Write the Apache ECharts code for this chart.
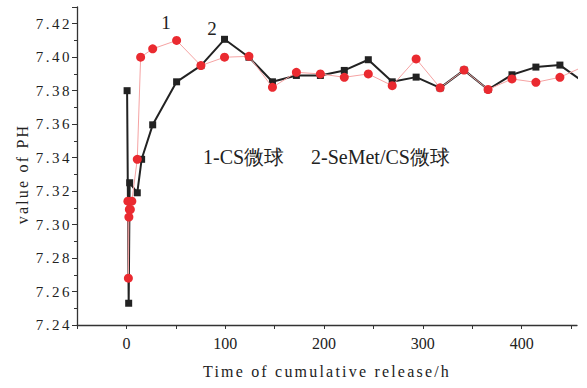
<!DOCTYPE html>
<html>
<head>
<meta charset="utf-8">
<script src="https://cdn.jsdelivr.net/npm/echarts@6/dist/echarts.min.js"></script>
<style>
html,body{margin:0;padding:0;background:#fff;}
#chart{width:587px;height:388px;}
</style>
</head>
<body>
<div id="chart"></div>
<script>
// Series 1: CS microspheres (red circles)
const timeRed = [1.5, 2, 2.5, 3, 4, 5.5, 11, 14.4, 26.6, 50.8, 75.4, 99.3, 124, 147.8, 172, 196.3, 220.5, 244.8, 269, 293.2, 317.5, 341.7, 366, 390.2, 414.4, 438.7, 463];
const phRed   = [7.314, 7.268, 7.3045, 7.309, 7.309, 7.314, 7.339, 7.400, 7.405, 7.410, 7.395, 7.400, 7.4005, 7.382, 7.391, 7.390, 7.388, 7.390, 7.383, 7.399, 7.3817, 7.3923, 7.3807, 7.387, 7.385, 7.388, 7.3945];
// Series 2: SeMet/CS microspheres (black squares)
const timeBlack = [0.7, 2.3, 3.3, 11, 15.4, 26.6, 50.8, 75.4, 99.3, 124, 147.8, 172, 196.3, 220.5, 244.8, 269, 293.2, 317.5, 341.7, 366, 390.2, 414.4, 438.7, 463];
const phBlack   = [7.380, 7.253, 7.325, 7.319, 7.339, 7.3596, 7.3853, 7.395, 7.4107, 7.400, 7.3853, 7.3891, 7.3891, 7.3921, 7.3985, 7.3853, 7.3881, 7.3817, 7.3923, 7.3807, 7.3895, 7.3941, 7.3953, 7.385];
const xTickLabels = [0, 100, 200, 300, 400];
const yTickLabels = [7.24, 7.26, 7.28, 7.30, 7.32, 7.34, 7.36, 7.38, 7.40, 7.42];
const legendText1 = '1-CS微球';
const legendText2 = '2-SeMet/CS微球';
const curveLabel1 = '1';
const curveLabel2 = '2';
const xName = 'Time of cumulative release/h';
const yName = 'value of PH';

const zip = (xs, ys) => xs.map((x, i) => [x, ys[i]]);
const serif = 'Liberation Serif';
const textColor = '#222';

const chart = echarts.init(document.getElementById('chart'), null, {renderer: 'svg'});
chart.setOption({
  animation: false,
  backgroundColor: '#fff',
  grid: {left: 77, right: 10, top: 7, bottom: 63, containLabel: false},
  xAxis: {
    type: 'value', min: -50, max: 456, interval: 50,
    axisLine: {show: true, onZero: false, lineStyle: {color: '#333', width: 1.3}},
    axisTick: {show: true, inside: false, length: 4, lineStyle: {color: '#333'}},
    splitLine: {show: false},
    axisLabel: {
      margin: 10, fontSize: 16, fontFamily: serif, color: textColor,
      showMaxLabel: false,
      formatter: v => xTickLabels.indexOf(v) >= 0 ? String(v) : ''
    },
    name: xName, nameLocation: 'middle', nameGap: 38,
    nameTextStyle: {fontSize: 16, fontFamily: serif, color: textColor}
  },
  yAxis: {
    type: 'value', min: 7.24, max: 7.43, interval: 0.02,
    axisLine: {show: true, onZero: false, lineStyle: {color: '#333', width: 1.3}},
    axisTick: {show: true, inside: false, length: 5, lineStyle: {color: '#333'}},
    minorTick: {show: true, splitNumber: 2, length: 3, lineStyle: {color: '#333'}},
    splitLine: {show: false},
    minorSplitLine: {show: false},
    axisLabel: {
      margin: 5, fontSize: 15, fontFamily: serif, color: textColor,
      formatter: v => {
        const hit = yTickLabels.find(t => Math.abs(t - v) < 1e-6);
        return hit !== undefined ? hit.toFixed(2) : '';
      }
    }
  },
  graphic: [
    {type: 'text', x: 22, y: 174, rotation: Math.PI / 2,
     style: {text: yName, fontSize: 16, fontFamily: serif, fill: textColor, align: 'center', verticalAlign: 'middle'}},
    {type: 'text', x: 203, y: 157,
     style: {text: legendText1, fontSize: 20, fontFamily: serif, fill: textColor, align: 'left', verticalAlign: 'middle'}},
    {type: 'text', x: 311, y: 157,
     style: {text: legendText2, fontSize: 20, fontFamily: serif, fill: textColor, align: 'left', verticalAlign: 'middle'}},
    {type: 'text', x: 166, y: 22,
     style: {text: curveLabel1, fontSize: 19, fontFamily: serif, fill: textColor, align: 'center', verticalAlign: 'middle'}},
    {type: 'text', x: 212, y: 28,
     style: {text: curveLabel2, fontSize: 19, fontFamily: serif, fill: textColor, align: 'center', verticalAlign: 'middle'}}
  ],
  series: [
    {
      name: '2-SeMet/CS', type: 'line', data: zip(timeBlack, phBlack),
      symbol: 'rect', symbolSize: 7, clip: true,
      lineStyle: {color: '#222', width: 2},
      itemStyle: {color: '#222'}, z: 2
    },
    {
      name: '1-CS', type: 'line', data: zip(timeRed, phRed),
      symbol: 'circle', symbolSize: 9, clip: true,
      lineStyle: {color: '#f5a3a3', width: 1},
      itemStyle: {color: '#ea2a30'}, z: 3
    }
  ]
});

function spaceText() {
  document.querySelectorAll('#chart text').forEach(t => {
    const s = t.textContent;
    if (s === xName || s === yName) t.style.letterSpacing = '2.2px';
    else if (/^7\.\d\d$/.test(s)) t.style.letterSpacing = '2.5px';
  });
}
chart.on('finished', spaceText);
spaceText();
</script>
</body>
</html>
